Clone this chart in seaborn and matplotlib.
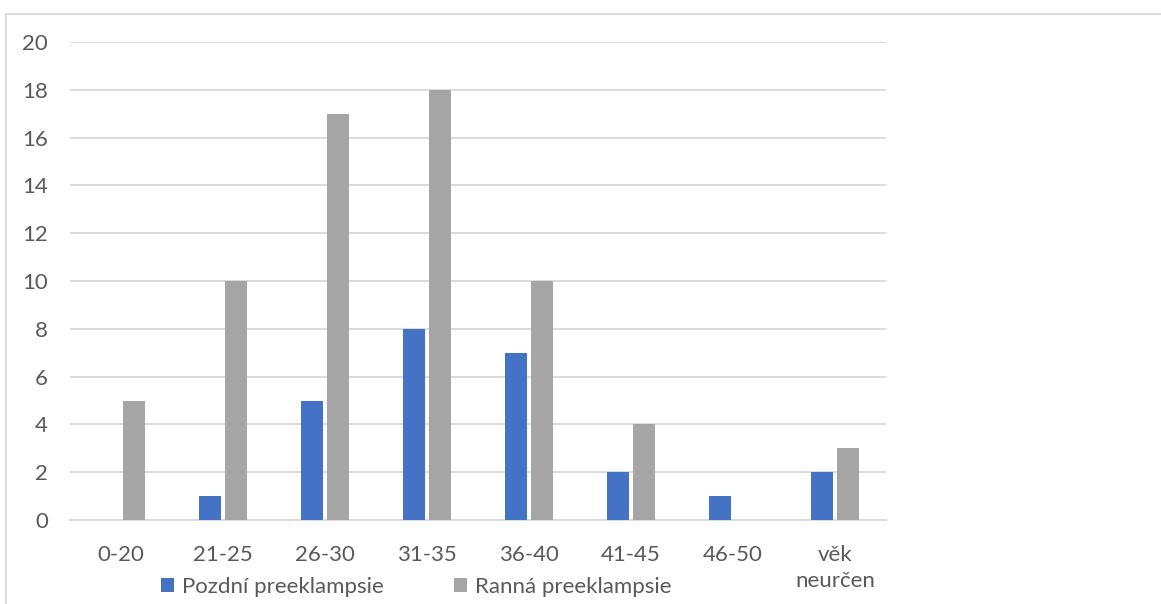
import matplotlib
matplotlib.use("Agg")
import matplotlib.pyplot as plt
import seaborn as sns
import pandas as pd
from matplotlib.patches import Rectangle

categories = ["0-20", "21-25", "26-30", "31-35", "36-40", "41-45", "46-50", "věk\nneurčen"]
series_names = ["Pozdní preeklampsie", "Ranná preeklampsie"]
pozdni = [0, 1, 5, 8, 7, 2, 1, 2]
ranna = [5, 10, 17, 18, 10, 4, 0, 3]
y_ticks = [0, 2, 4, 6, 8, 10, 12, 14, 16, 18, 20]
colors = ["#4472C4", "#A5A5A5"]

df = pd.DataFrame({
    "age": categories * 2,
    "count": pozdni + ranna,
    "type": [series_names[0]] * len(categories) + [series_names[1]] * len(categories),
})

sns.set_theme(style="white")
plt.rcParams["font.family"] = ["Lato", "DejaVu Sans"]
text_color = "#595959"
grid_color = "#D9D9D9"
fs = 16

fig = plt.figure(figsize=(11.61, 6.04), dpi=100)
ax = fig.add_axes([70 / 1161, 1 - 520 / 604, (886 - 70) / 1161, (520 - 42) / 604])

sns.barplot(data=df, x="age", y="count", hue="type", palette=colors,
            width=0.51, gap=0.12, ax=ax, saturation=1, linewidth=0, zorder=3)

ax.set_ylim(0, 20)
ax.set_xlim(-0.5, len(categories) - 0.5)
ax.set_yticks(y_ticks)
ax.yaxis.grid(True, color=grid_color, linewidth=1.3, zorder=0)
ax.set_axisbelow(True)
for s in ["left", "right", "top"]:
    ax.spines[s].set_visible(False)
ax.spines["bottom"].set_color(grid_color)
ax.spines["bottom"].set_linewidth(1.3)
ax.set_xlabel("")
ax.set_ylabel("")
ax.tick_params(axis="both", length=0, labelsize=fs, colors=text_color)
ax.tick_params(axis="y", pad=16)
ax.tick_params(axis="x", pad=18)
for lab in ax.get_xticklabels():
    lab.set_linespacing(1.4)

handles, labels = ax.get_legend_handles_labels()
if ax.get_legend() is not None:
    ax.get_legend().remove()
leg = fig.legend(handles, labels, loc="center", bbox_to_anchor=(416 / 1161, 1 - 587 / 604),
                 ncol=2, frameon=False, fontsize=fs, handlelength=0.6, handleheight=0.6,
                 handletextpad=0.36, columnspacing=3.15, borderpad=0)
for t in leg.get_texts():
    t.set_color(text_color)

fig.patches.append(Rectangle((5.5 / 1161, -0.2), 1.2, 1 - 13.5 / 604 + 0.2,
                             transform=fig.transFigure, fill=False,
                             edgecolor=grid_color, linewidth=1.3))

fig.savefig("out.png", dpi=100)
